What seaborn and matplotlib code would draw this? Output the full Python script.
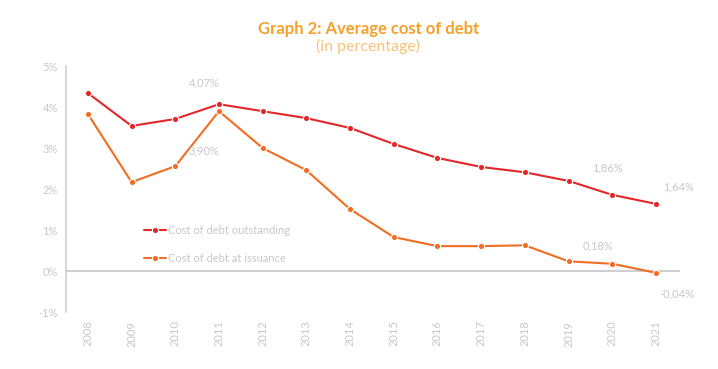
import seaborn as sns
import pandas as pd
import matplotlib.pyplot as plt

years = ['2008', '2009', '2010', '2011', '2012', '2013', '2014',
         '2015', '2016', '2017', '2018', '2019', '2020', '2021']
outstanding = [4.34, 3.54, 3.71, 4.07, 3.90, 3.73, 3.49,
               3.10, 2.76, 2.54, 2.41, 2.20, 1.86, 1.64]
issuance = [3.83, 2.17, 2.56, 3.90, 3.00, 2.46, 1.51,
            0.83, 0.61, 0.61, 0.63, 0.24, 0.18, -0.04]
series_names = ['Cost of debt outstanding', 'Cost of debt at issuance']
y_ticks = [-1, 0, 1, 2, 3, 4, 5]

# labelled points: (series, year, text, offset in px)
labels = [
    (0, '2011', '4,07%', (-15, 21)),
    (1, '2011', '3,90%', (-15, -40)),
    (0, '2020', '1,86%', (-5, 27)),
    (0, '2021', '1,64%', (23, 17)),
    (1, '2020', '0,18%', (-14, 18)),
    (1, '2021', '-0,04%', (21, -21)),
]

red = '#E52628'
orange = '#F26D21'
grey = '#CFCFCF'
text_grey = '#C8C8C8'

df = pd.DataFrame({
    'year': years * 2,
    'value': outstanding + issuance,
    'series': [series_names[0]] * len(years) + [series_names[1]] * len(years),
})
df['x'] = df['year'].map({y: i for i, y in enumerate(years)})

sns.set_theme(style="white")
plt.rcParams['font.family'] = ['Lato', 'DejaVu Sans']

fig = plt.figure(figsize=(7.18, 3.69), dpi=100)
ax = fig.add_axes([0.092, 0.154, 0.855, 0.667])

sns.lineplot(data=df, x='x', y='value', hue='series', hue_order=series_names,
             palette=[red, orange], marker='o', markersize=4.5,
             markeredgecolor='white', markeredgewidth=0.8, linewidth=1.5,
             ax=ax, zorder=3)

ax.set_xlim(-0.5, 13.55)
ax.set_ylim(-1, 5)
ax.set_xticks(range(len(years)))
ax.set_xticklabels(years, rotation=90, color=text_grey, fontsize=8)
ax.set_yticks(y_ticks)
ax.set_yticklabels([f'{t}%' for t in y_ticks], color=text_grey, fontsize=8)
ax.tick_params(axis='both', length=0, pad=6)
ax.set_xlabel('')
ax.set_ylabel('')

for s in ['top', 'right', 'bottom']:
    ax.spines[s].set_visible(False)
ax.spines['left'].set_color(grey)
ax.spines['left'].set_linewidth(1.2)
ax.axhline(0, color=grey, linewidth=1.5, zorder=1)

values = [outstanding, issuance]
for si, yr, txt, off in labels:
    i = years.index(yr)
    ax.annotate(txt, (i, values[si][i]), xytext=(off[0] * 0.72, off[1] * 0.72),
                textcoords='offset points', ha='center', va='center',
                color=text_grey, fontsize=8)

leg = ax.legend(loc='center left', bbox_to_anchor=(0.11, 0.275), frameon=False,
                fontsize=8, handlelength=2.0, handletextpad=0.2,
                labelspacing=1.6)
for t in leg.get_texts():
    t.set_color(text_grey)

fig.text(0.513, 0.922, 'Graph 2: Average cost of debt', ha='center', va='center',
         color='#F5A02A', fontsize=12, fontweight='bold')
fig.text(0.513, 0.873, '(in percentage)', ha='center', va='center',
         color='#F8C27A', fontsize=11.5)

fig.savefig('out.png', dpi=100)
